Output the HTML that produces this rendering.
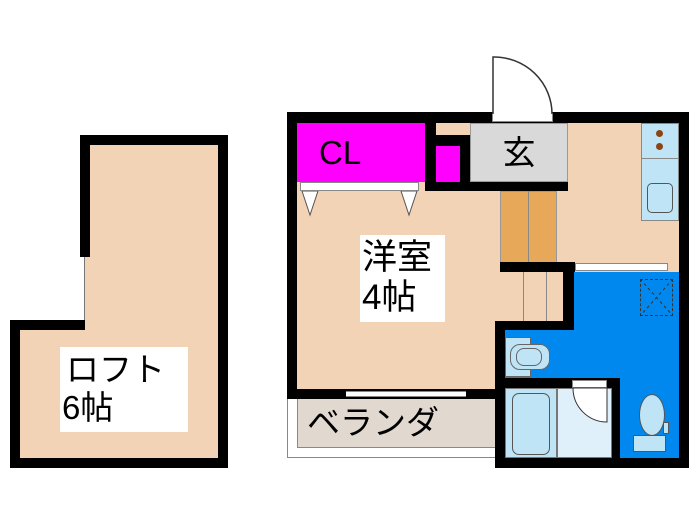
<!DOCTYPE html>
<html><head><meta charset="utf-8"><style>
body{margin:0;width:700px;height:525px;background:#fff;position:relative;overflow:hidden;font-family:"Liberation Sans","Noto Sans CJK JP",sans-serif}
div{position:absolute;box-sizing:border-box}
.k{background:#000}
.t{background:#f2d3b5}
</style></head><body>
<!-- Loft -->
<div class="t" style="left:84px;top:140px;width:140px;height:322px"></div>
<div class="t" style="left:14px;top:325px;width:80px;height:137px"></div>
<div class="k" style="left:80px;top:135px;width:148px;height:10px"></div>
<div class="k" style="left:80px;top:135px;width:10px;height:122px"></div>
<div style="left:84px;top:257px;width:1px;height:66px;background:#777"></div>
<div class="k" style="left:218px;top:135px;width:10px;height:333px"></div>
<div class="k" style="left:10px;top:320px;width:75px;height:10px"></div>
<div class="k" style="left:10px;top:320px;width:10px;height:148px"></div>
<div class="k" style="left:10px;top:458px;width:218px;height:10px"></div>
<div style="left:60px;top:347px;width:128px;height:85px;background:#fff;font-size:33px;line-height:38px;padding:4px 0 0 6px">ロフト<br><span style="margin-left:-4px">6帖</span></div>

<!-- Main unit -->
<div class="t" style="left:290px;top:115px;width:395px;height:280px"></div>
<!-- veranda -->
<div style="left:287px;top:398px;width:209px;height:60px;border:1px solid #888;background:#fff"></div>
<div style="left:297px;top:399px;width:199px;height:49px;background:#e1d8d0;border-left:1px solid #888;border-bottom:1px solid #888"></div>
<div style="left:307px;top:401px;font-size:33px;line-height:44px">ベランダ</div>
<!-- outer walls -->
<div class="k" style="left:287px;top:112px;width:402px;height:11px"></div>
<div class="k" style="left:287px;top:112px;width:10px;height:287px"></div>
<div class="k" style="left:679px;top:112px;width:10px;height:356px"></div>
<div class="k" style="left:287px;top:389px;width:209px;height:10px"></div>
<div class="k" style="left:495px;top:458px;width:194px;height:10px"></div>
<!-- window -->
<div style="left:346px;top:391px;width:120px;height:6px;background:#fff;border-top:1px solid #888;border-bottom:1px solid #888"></div>
<!-- door -->
<div style="left:492px;top:113px;width:61px;height:9px;background:#fff;border:1px solid #888"></div>
<svg style="position:absolute;left:490px;top:54px" width="68" height="62"><path d="M3 60 V3 A58 57 0 0 1 62 60" fill="#fff" stroke="#333" stroke-width="1.5"/></svg>
<!-- CL -->
<div style="left:297px;top:123px;width:128px;height:59px;background:#ff00ff;font-size:33px;line-height:59px;padding-left:22px">CL</div>
<div style="left:300px;top:182px;width:119px;height:9px;background:#fff;border:1px solid #888"></div>
<svg style="position:absolute;left:300px;top:191px" width="120" height="26"><path d="M2 0 L10 24 L18 0Z M101 0 L109 24 L117 0Z" fill="#fff" stroke="#555"/></svg>
<div class="k" style="left:425px;top:123px;width:11px;height:68px"></div>
<div class="k" style="left:425px;top:135px;width:45px;height:11px"></div>
<div style="left:436px;top:146px;width:24px;height:36px;background:#ff00ff"></div>
<div class="k" style="left:460px;top:135px;width:10px;height:56px"></div>
<div class="k" style="left:425px;top:182px;width:143px;height:9px"></div>
<div style="left:470px;top:123px;width:98px;height:59px;background:#d9d9d9;border:1px solid #999;font-size:33px;line-height:57px;text-align:center">玄</div>
<!-- kitchen counter -->
<div style="left:641px;top:123px;width:38px;height:98px;background:#bfe4f5;border:1px solid #888"></div>
<div style="left:641px;top:158px;width:38px;height:1px;background:#888"></div>
<div style="left:656px;top:130px;width:7px;height:7px;border-radius:50%;background:#8b4513"></div>
<div style="left:656px;top:143px;width:7px;height:7px;border-radius:50%;background:#8b4513"></div>
<div style="left:647px;top:183px;width:26px;height:30px;border:1.5px solid #555;border-radius:5px;background:#bfe4f5"></div>
<!-- stairs -->
<div style="left:500px;top:191px;width:57px;height:72px;background:#e8a85a;border:1px solid #999"></div>
<div style="left:528px;top:191px;width:1px;height:72px;background:#888"></div>
<div style="left:523px;top:272px;width:1px;height:50px;background:#888"></div>
<div style="left:546px;top:272px;width:1px;height:50px;background:#888"></div>
<div class="k" style="left:500px;top:262px;width:75px;height:10px"></div>
<div class="k" style="left:563px;top:262px;width:11px;height:68px"></div>
<div class="k" style="left:495px;top:321px;width:79px;height:9px"></div>
<div class="k" style="left:495px;top:321px;width:10px;height:147px"></div>
<!-- blue bath area -->
<div style="left:574px;top:272px;width:105px;height:58px;background:#0088ee"></div>
<div style="left:505px;top:330px;width:174px;height:128px;background:#0088ee"></div>
<div style="left:575px;top:263px;width:93px;height:8px;background:#fff;border:1px solid #888"></div>
<div style="left:640px;top:279px;width:33px;height:37px;border:1.5px dashed #333"></div>
<svg style="position:absolute;left:640px;top:279px" width="33" height="37"><path d="M0 0L33 37M33 0L0 37" stroke="#333" stroke-dasharray="3 3"/></svg>
<!-- washbasin -->
<div style="left:505px;top:337px;width:26px;height:40px;background:#bfe4f5;border:1px solid #666"></div>
<div style="left:510px;top:344px;width:40px;height:26px;background:#bfe4f5;border:1px solid #666;border-radius:10px"></div>
<div style="left:516px;top:348px;width:26px;height:18px;background:#bfe4f5;border:1px solid #666;border-radius:8px"></div>
<!-- bath room -->
<div class="k" style="left:505px;top:378px;width:115px;height:10px"></div>
<div class="k" style="left:612px;top:378px;width:8px;height:80px"></div>
<div style="left:505px;top:388px;width:52px;height:70px;background:#bfe4f5;border:1px solid #777"></div>
<div style="left:512px;top:393px;width:38px;height:62px;background:#bfe4f5;border:1.5px solid #555;border-radius:7px"></div>
<div style="left:557px;top:388px;width:55px;height:70px;background:#dff0fb;border:1px solid #777"></div>
<div style="left:572px;top:380px;width:35px;height:8px;background:#fff;border:1px solid #888"></div>
<svg style="position:absolute;left:570px;top:387px" width="44" height="38"><path d="M3 1 A34 34 0 0 0 37 35 V1Z" fill="#fff" stroke="#333"/></svg>
<!-- toilet -->
<div style="left:639px;top:394px;width:26px;height:42px;background:#bfe4f5;border:1.5px solid #555;border-radius:50%"></div>
<div style="left:663px;top:422px;width:6px;height:12px;background:#bfe4f5;border:1px solid #555"></div>
<div style="left:633px;top:435px;width:33px;height:17px;background:#bfe4f5;border:1px solid #555"></div>
<!-- room label -->
<div style="left:360px;top:235px;width:85px;height:87px;background:#fff;font-size:35px;line-height:40px;padding:3px 0 0 2px">洋室<br>4帖</div>
</body></html>
